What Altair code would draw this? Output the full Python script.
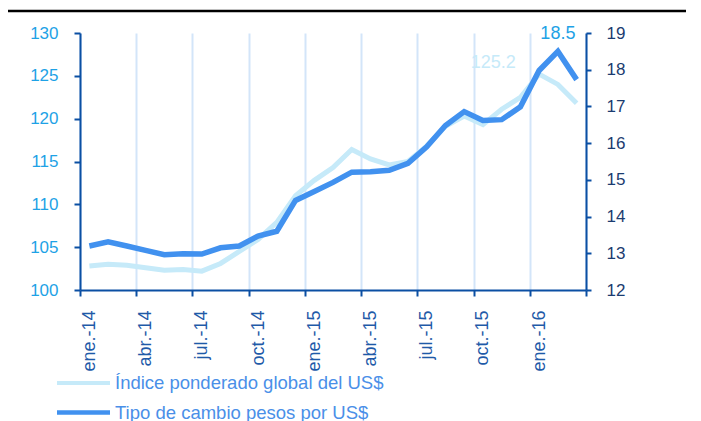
import altair as alt
import pandas as pd

# ---- data ----
tick_labels = ["ene.-14", "abr.-14", "jul.-14", "oct.-14", "ene.-15",
               "abr.-15", "jul.-15", "oct.-15", "ene.-16"]
index_vals = [102.8, 103.0, 102.9, 102.6, 102.3, 102.4, 102.2, 103.1, 104.5,
              105.9, 107.9, 111.0, 112.8, 114.3, 116.4, 115.3, 114.6, 115.0,
              116.8, 119.1, 120.3, 119.3, 121.1, 122.5, 125.2, 124.0, 121.8]
peso_vals = [13.20, 13.31, 13.20, 13.08, 12.96, 12.99, 12.98, 13.15, 13.20,
             13.47, 13.60, 14.44, 14.68, 14.93, 15.21, 15.22, 15.26, 15.45,
             15.90, 16.48, 16.86, 16.62, 16.64, 16.99, 17.98, 18.50, 17.73]
series_names = ["Índice ponderado global del US$", "Tipo de cambio pesos por US$"]
left_ticks = [100, 105, 110, 115, 120, 125, 130]
right_ticks = [12, 13, 14, 15, 16, 17, 18, 19]

LIGHT = "#c6eaf9"
DARK = "#4191ef"
AXIS = "#0b4fa3"
FONT = "Liberation Sans"

n = len(peso_vals)
df = pd.DataFrame({"m": [i + 0.5 for i in range(n)], "idx": index_vals, "peso": peso_vals})
peak_idx = df.loc[[df["idx"].idxmax()]]
peak_peso = df.loc[[df["peso"].idxmax()]]

label_expr = "[" + ",".join("'%s'" % t for t in tick_labels) + "][datum.value/3] || ''"

xscale = alt.Scale(domain=[0, n], nice=False, zero=False)
xaxis = alt.Axis(values=list(range(0, n + 1, 3)), labelExpr=label_expr, labelAngle=270,
                 labelFont=FONT, labelFontSize=18, labelColor="#1f5aa8", labelPadding=14,
                 labelOffset=9.4, domainColor=AXIS, domainWidth=2, tickColor=AXIS,
                 tickWidth=2, tickSize=6, grid=True, gridColor="#d3e5f9", gridWidth=2,
                 labelOverlap=False, title=None)
X = alt.X("m:Q", scale=xscale, axis=xaxis)

left_axis = alt.Axis(values=left_ticks, orient="left", labelFont=FONT, labelFontSize=17,
                     labelColor="#1ea2e6", labelPadding=16, domainColor=AXIS, domainWidth=2,
                     tickColor=AXIS, tickWidth=2, tickSize=6, grid=False,
                     labelOverlap=False, title=None)
right_axis = alt.Axis(values=right_ticks, orient="right", labelFont=FONT, labelFontSize=17,
                      labelColor="#1b3c70", labelPadding=15, domainColor=AXIS, domainWidth=2,
                      tickColor=AXIS, tickWidth=2, tickSize=5, grid=False,
                      labelOverlap=False, title=None)
lscale = alt.Scale(domain=[100, 130], nice=False, zero=False)
rscale = alt.Scale(domain=[12, 19], nice=False, zero=False)
YL = alt.Y("idx:Q", scale=lscale, axis=left_axis)
YR = alt.Y("peso:Q", scale=rscale, axis=right_axis)

light_line = alt.Chart(df).mark_line(color=LIGHT, strokeWidth=5).encode(x=X, y=YL)
light_text = alt.Chart(peak_idx).mark_text(color=LIGHT, font=FONT, fontSize=18, dx=-46, dy=-11).encode(
    x=X, y=YL, text=alt.Text("idx:Q", format=".1f"))

top_rule = alt.Chart(pd.DataFrame({"a": [0]})).mark_rule(color="black", strokeWidth=2.5).encode(
    x=alt.value(-72), x2=alt.value(606), y=alt.value(-22))

legend_df = pd.DataFrame({"name": series_names})
leg_rule1 = alt.Chart(legend_df).mark_rule(color=LIGHT, strokeWidth=4).encode(
    x=alt.value(-23), x2=alt.value(30), y=alt.value(350))
leg_rule2 = alt.Chart(legend_df).mark_rule(color=DARK, strokeWidth=4).encode(
    x=alt.value(-23), x2=alt.value(30), y=alt.value(379.5))
leg_text1 = alt.Chart(legend_df.iloc[[0]]).mark_text(
    align="left", baseline="middle", font=FONT, fontSize=18.5, color="#4a8fe8").encode(
    x=alt.value(35), y=alt.value(350), text="name:N")
leg_text2 = alt.Chart(legend_df.iloc[[1]]).mark_text(
    align="left", baseline="middle", font=FONT, fontSize=18.5, color="#4a8fe8").encode(
    x=alt.value(35), y=alt.value(379.5), text="name:N")

left = alt.layer(light_line, light_text, top_rule, leg_rule1, leg_rule2, leg_text1, leg_text2)

dark_line = alt.Chart(df).mark_line(color=DARK, strokeWidth=5.5).encode(x=X, y=YR)
dark_text = alt.Chart(peak_peso).mark_text(color="#1ea2e6", font=FONT, fontSize=18, dy=-17).encode(
    x=X, y=YR, text=alt.Text("peso:Q", format=".1f"))
right = alt.layer(dark_line, dark_text)

chart = alt.layer(left, right).resolve_scale(y="independent").properties(
    width=506, height=257,
    autosize=alt.AutoSizeParams(type="none"),
    padding={"left": 72, "top": 25, "right": 107, "bottom": 131},
    background="white",
).configure_view(stroke=None)

chart.save("out.html", embed_options={"renderer": "svg", "actions": False})
